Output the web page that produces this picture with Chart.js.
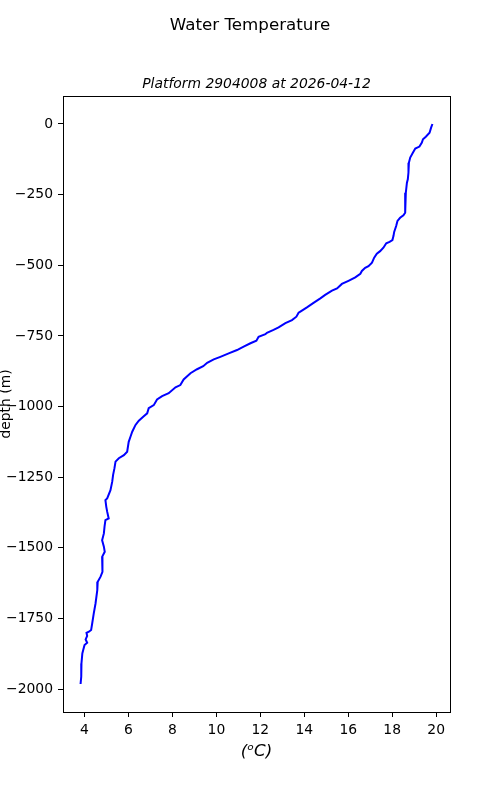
<!DOCTYPE html>
<html>
<head>
<meta charset="utf-8">
<script src="https://cdn.jsdelivr.net/npm/chart.js@4"></script>
<style>
    body { margin: 0; background: #fff; }
    canvas { display: block; }
</style>
</head>
<body>
<canvas id="tempChart" width="500" height="800"></canvas>
<script>
// profile readings, surface to bottom
const depths = [0, -13, -31, -45, -54, -66, -80, -87, -102, -119, -137, -172, -196, -208, -243, -267, -314, -323, -332, -343,
    -361, -382, -396, -411, -417, -422, -438, -450, -459, -473, -491, -503, -509, -520, -530, -543, -555, -566, -582, -590,
    -605, -617, -633, -649, -664, -668, -682, -694, -705, -720, -729, -739, -744, -753, -767, -776, -788, -800, -812, -824,
    -833, -845, -857, -868, -882, -904, -924, -932, -953, -963, -975, -995, -1006, -1024, -1036, -1050, -1065, -1089, -1107, -1125,
    -1160, -1172, -1183, -1195, -1219, -1242, -1266, -1296, -1325, -1331, -1355, -1372, -1396, -1402, -1425, -1449, -1473, -1496, -1514, -1532,
    -1555, -1585, -1602, -1620, -1650, -1697, -1732, -1767, -1791, -1797, -1801, -1812, -1824, -1836, -1844, -1862, -1874, -1909, -1956, -1982];
const temps = [19.83, 19.77, 19.70, 19.53, 19.40, 19.35, 19.24, 19.05, 18.94, 18.82, 18.76, 18.74, 18.71, 18.67, 18.62, 18.59, 18.59, 18.51, 18.36, 18.24,
    18.18, 18.09, 18.06, 18.01, 17.88, 17.73, 17.60, 17.45, 17.30, 17.18, 17.08, 16.92, 16.77, 16.62, 16.55, 16.32, 16.01, 15.71, 15.49, 15.26,
    14.95, 14.73, 14.42, 14.12, 13.82, 13.74, 13.64, 13.44, 13.14, 12.83, 12.60, 12.30, 12.23, 11.92, 11.82, 11.55, 11.24, 10.94, 10.56, 10.18,
    9.88, 9.58, 9.40, 9.12, 8.82, 8.51, 8.36, 8.14, 7.83, 7.53, 7.30, 7.15, 6.92, 6.85, 6.67, 6.47, 6.32, 6.17, 6.09, 6.01,
    5.94, 5.79, 5.56, 5.41, 5.36, 5.30, 5.26, 5.18, 5.03, 4.95, 4.99, 5.03, 5.10, 4.95, 4.91, 4.88, 4.80, 4.88, 4.92, 4.80,
    4.83, 4.80, 4.73, 4.60, 4.58, 4.50, 4.42, 4.35, 4.30, 4.20, 4.09, 4.12, 4.05, 4.12, 4.00, 3.94, 3.90, 3.86, 3.85, 3.82];

const xTicks = [4, 6, 8, 10, 12, 14, 16, 18, 20];
const yTicks = [0, -250, -500, -750, -1000, -1250, -1500, -1750, -2000];

const subtitleText = "Platform 2904008 at 2026-04-12";

const fontFamily = "'DejaVu Sans', sans-serif";
Chart.defaults.color = '#000';
Chart.defaults.font.family = fontFamily;

// matplotlib style frame round the plot area, plus the axes title centred over it
const frame = {
    id: 'frame',
    afterDraw(chart) {
        const a = chart.chartArea;
        const ctx = chart.ctx;
        ctx.save();
        ctx.strokeStyle = '#000';
        ctx.lineWidth = 1;
        ctx.strokeRect(Math.round(a.left) + 0.5, Math.round(a.top) + 0.5, Math.round(a.right - a.left), Math.round(a.bottom - a.top));

        ctx.fillStyle = '#000';
        ctx.font = "italic 13.9px " + fontFamily;
        ctx.textAlign = 'center';
        ctx.textBaseline = 'alphabetic';
        ctx.fillText(subtitleText, (a.left + a.right) / 2, a.top - 8.5);
        ctx.restore();
    }
};

let points = depths.map((d, i) => ({ x: temps[i], y: d }));

let tempChart = new Chart("tempChart", {
    type: "scatter",
    plugins: [frame],
    data: {
        datasets: [{
            data: points,
            showLine: true,
            borderColor: '#0000ff',
            borderWidth: 2,
            pointRadius: 0,
            fill: false
        }]
    },
    options: {
        responsive: false,
        animation: false,
        layout: { padding: 0 },
        plugins: {
            legend: { display: false },
            tooltip: { enabled: false },
            title: {
                display: true,
                text: "Water Temperature",
                font: { size: 16.7, weight: 'normal' },
                padding: { top: 16, bottom: 59.96 }
            }
        },
        scales: {
            x: {
                type: 'linear',
                min: 3.02,
                max: 20.63,
                afterBuildTicks: scale => { scale.ticks = xTicks.map(v => ({ value: v })); },
                afterFit: scale => { scale.height = 88; },
                grid: { drawOnChartArea: false, drawTicks: true, tickLength: 5, color: '#000', lineWidth: 1 },
                border: { display: true, color: '#000', width: 1 },
                ticks: { font: { size: 13.9 }, padding: 5, maxRotation: 0 },
                title: {
                    display: true,
                    text: "(\u1D52C)",
                    font: { size: 16.7, style: 'italic' },
                    padding: { top: 0, bottom: 38 }
                }
            },
            y: {
                type: 'linear',
                min: -2081,
                max: 99,
                afterBuildTicks: scale => { scale.ticks = yTicks.map(v => ({ value: v })); },
                afterFit: scale => { scale.width = 63; },
                grid: { drawOnChartArea: false, drawTicks: true, tickLength: 5, color: '#000', lineWidth: 1 },
                border: { display: true, color: '#000', width: 1 },
                ticks: {
                    font: { size: 13.9 },
                    padding: 5,
                    callback: v => v < 0 ? '\u2212' + Math.abs(v) : String(v)
                },
                title: {
                    display: true,
                    text: "depth (m)",
                    font: { size: 13.9, lineHeight: 0.9 },
                    padding: { top: 0, bottom: 0 }
                }
            },
            // empty right axis only to hold the plot's right edge at the reference spot
            yRight: {
                type: 'linear',
                position: 'right',
                display: true,
                afterFit: scale => { scale.width = 50; },
                grid: { display: false },
                border: { display: false },
                ticks: { display: false }
            }
        }
    }
});
</script>
</body>
</html>
